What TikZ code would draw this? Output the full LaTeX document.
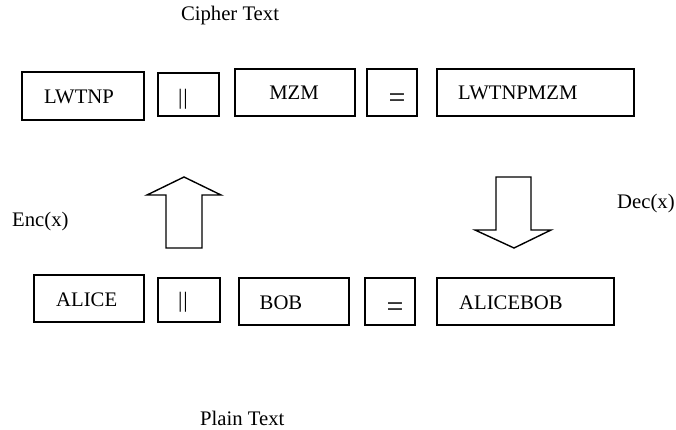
\documentclass[tikz,border=0pt]{standalone}
\usepackage{fontspec}
\setmainfont{Liberation Serif}
\begin{document}
\begin{tikzpicture}[x=1pt,y=-1pt,
  box/.style={draw,line width=1.4pt,inner sep=0pt,outer sep=0pt},
  txt/.style={inner sep=0pt,font=\fontsize{20.7}{24}\selectfont},
  bars/.style={inner sep=0pt,font=\fontsize{22}{24}\selectfont},
  eqs/.style={inner sep=0pt,font=\fontsize{30}{30}\selectfont},
  blockarrow/.style={draw,line width=1.4pt,line join=miter}]
\useasboundingbox (0,0) rectangle (676,430);
% title
\node[txt,anchor=base] (cipher) at (230,20.7) {Cipher Text};
% top row boxes
\node[box,minimum width=122pt,minimum height=48pt] (c1) at (83,96) {};
\node[box,minimum width=61pt,minimum height=43pt] (c2) at (188.5,94.5) {};
\node[box,minimum width=120pt,minimum height=47pt] (c3) at (295,92.5) {};
\node[box,minimum width=50pt,minimum height=47pt] (c4) at (392,92.5) {};
\node[box,minimum width=197pt,minimum height=47pt] (c5) at (535.5,92.5) {};
% top row texts
\node[txt,anchor=base] (t1) at (79,103.3) {LWTNP};
\node[bars] (t2) at (183,99.5) {|\kern0.8pt|};
\node[txt,anchor=base] (t3) at (294,99.3) {MZM};
\node[eqs] (t4) at (397,100.5) {=};
\node[txt,anchor=base west] (t5) at (458,99.3) {LWTNPMZM};
% bottom row boxes
\node[box,minimum width=110pt,minimum height=47pt] (p1) at (89,298.5) {};
\node[box,minimum width=62pt,minimum height=44pt] (p2) at (189,300) {};
\node[box,minimum width=110pt,minimum height=47pt] (p3) at (294,301.5) {};
\node[box,minimum width=50pt,minimum height=47pt] (p4) at (390,301.5) {};
\node[box,minimum width=177pt,minimum height=47pt] (p5) at (525.5,301.5) {};
% bottom row texts
\node[txt,anchor=base] (s1) at (86.7,306.7) {ALICE};
\node[bars] (s2) at (183,302.5) {|\kern0.8pt|};
\node[txt,anchor=base] (s3) at (281,309) {BOB};
\node[eqs] (s4) at (395,310) {=};
\node[txt,anchor=base west] (s5) at (459,309) {ALICEBOB};
% labels
\node[txt,anchor=base west] (enc) at (12,226.7) {Enc(x)};
\node[txt,anchor=base west] (dec) at (617,208) {Dec(x)};
\node[txt,anchor=base west] (plain) at (200,425) {Plain Text};
% block arrows
\draw[blockarrow] (184,177) -- (221,195) -- (202,195) -- (202,248) -- (166,248)
  -- (166,195) -- (147,195) -- cycle;
\draw[blockarrow] (514,248) -- (551,230) -- (531,230) -- (531,177) -- (496,177)
  -- (496,230) -- (475,230) -- cycle;
\end{tikzpicture}
\end{document}
